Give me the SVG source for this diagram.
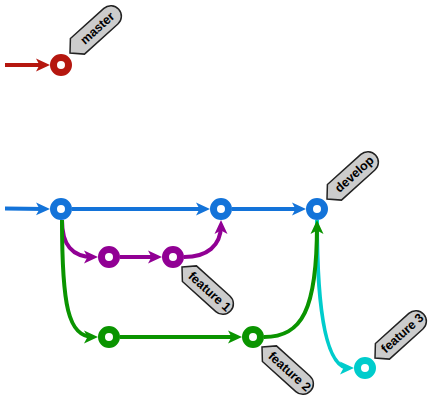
<svg xmlns="http://www.w3.org/2000/svg" width="430" height="402" viewBox="0 0 430 402">
<style>
.c{fill:none;stroke-width:4}
.n{fill:#fff;stroke-width:7}
.tag path{fill:#cccccc;stroke:#222;stroke-width:1.5}
.tag text{font-family:"Liberation Sans",Arial,sans-serif;font-size:12.5px;font-weight:bold;fill:#000;text-anchor:middle;dominant-baseline:central}
.red{stroke:#b5170f}.blue{stroke:#1373d9}.pur{stroke:#910094}.grn{stroke:#0a9400}.cyn{stroke:#00cccc}
</style>
<defs>
<marker id="aR" markerUnits="userSpaceOnUse" markerWidth="14" markerHeight="14" refX="9" refY="7" orient="auto" viewBox="0 0 14 14"><path d="M0,0.5 L14,7 L0,13.5 L3.5,7 Z" fill="#b5170f"/></marker>
<marker id="aB" markerUnits="userSpaceOnUse" markerWidth="14" markerHeight="14" refX="9" refY="7" orient="auto" viewBox="0 0 14 14"><path d="M0,0.5 L14,7 L0,13.5 L3.5,7 Z" fill="#1373d9"/></marker>
<marker id="aP" markerUnits="userSpaceOnUse" markerWidth="14" markerHeight="14" refX="9" refY="7" orient="auto" viewBox="0 0 14 14"><path d="M0,0.5 L14,7 L0,13.5 L3.5,7 Z" fill="#910094"/></marker>
<marker id="aG" markerUnits="userSpaceOnUse" markerWidth="14" markerHeight="14" refX="9" refY="7" orient="auto" viewBox="0 0 14 14"><path d="M0,0.5 L14,7 L0,13.5 L3.5,7 Z" fill="#0a9400"/></marker>
<marker id="aC" markerUnits="userSpaceOnUse" markerWidth="14" markerHeight="14" refX="9" refY="7" orient="auto" viewBox="0 0 14 14"><path d="M0,0.5 L14,7 L0,13.5 L3.5,7 Z" fill="#00cccc"/></marker>
</defs>
<g id="connectors">
<path class="c red" d="M5,65 L45,65" marker-end="url(#aR)"/>
<path class="c blue" d="M5,208.5 L45,209" marker-end="url(#aB)"/>
<path class="c blue" d="M72,209 L205,209" marker-end="url(#aB)"/>
<path class="c blue" d="M232,209 L301,209" marker-end="url(#aB)"/>
<path class="c pur" d="M62,220 C62,245 72,257 93,257" marker-end="url(#aP)"/>
<path class="c pur" d="M120,257 L157,257" marker-end="url(#aP)"/>
<path class="c pur" d="M184,257 C207,257 221,246 221,225" marker-end="url(#aP)"/>
<path class="c cyn" d="M317,220 C317,320 328,368 349,368" marker-end="url(#aC)"/>
<path class="c grn" d="M62,220 C62,305 68,337 93,337" marker-end="url(#aG)"/>
<path class="c grn" d="M120,337 L237,337" marker-end="url(#aG)"/>
<path class="c grn" d="M264,337 C302,337 317,310 317,225" marker-end="url(#aG)"/>
</g>
<g id="master"><circle class="n red" cx="61" cy="65" r="7.5"/></g>
<g id="c1"><circle class="n blue" cx="61" cy="209" r="7.5"/></g>
<g id="c2"><circle class="n blue" cx="221" cy="209" r="7.5"/></g>
<g id="develop"><circle class="n blue" cx="317" cy="209" r="7.5"/></g>
<g id="f1a"><circle class="n pur" cx="109" cy="257" r="7.5"/></g>
<g id="f1b"><circle class="n pur" cx="173" cy="257" r="7.5"/></g>
<g id="f2a"><circle class="n grn" cx="109" cy="337" r="7.5"/></g>
<g id="f2b"><circle class="n grn" cx="253" cy="337" r="7.5"/></g>
<g id="f3"><circle class="n cyn" cx="365" cy="368" r="7.5"/></g>
<g id="tag-master" class="tag" transform="translate(70,53) rotate(-42)"><path d="M0,0 L10,-10.5 L55,-10.5 A10.5,10.5 0 0 1 55,10.5 L10,10.5 Z"/><text x="37" y="0">master</text></g>
<g id="tag-develop" class="tag" transform="translate(327,199) rotate(-42)"><path d="M0,0 L10,-10.5 L55,-10.5 A10.5,10.5 0 0 1 55,10.5 L10,10.5 Z"/><text x="37" y="0">develop</text></g>
<g id="tag-feature1" class="tag" transform="translate(182,267) rotate(42)"><path d="M0,0 L10,-10.5 L55,-10.5 A10.5,10.5 0 0 1 55,10.5 L10,10.5 Z"/><text x="37" y="0">feature 1</text></g>
<g id="tag-feature2" class="tag" transform="translate(262,347) rotate(42)"><path d="M0,0 L10,-10.5 L55,-10.5 A10.5,10.5 0 0 1 55,10.5 L10,10.5 Z"/><text x="37" y="0">feature 2</text></g>
<g id="tag-feature3" class="tag" transform="translate(375,358) rotate(-42)"><path d="M0,0 L10,-10.5 L55,-10.5 A10.5,10.5 0 0 1 55,10.5 L10,10.5 Z"/><text x="37" y="0">feature 3</text></g>
</svg>
